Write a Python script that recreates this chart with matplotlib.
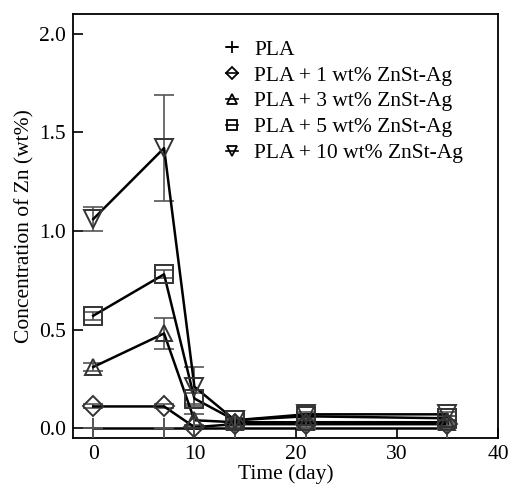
import matplotlib
matplotlib.use("Agg")
import matplotlib.pyplot as plt
import numpy as np

plt.rcParams['font.family'] = ['Liberation Serif', 'DejaVu Serif']

days = [0, 7, 10, 14, 21, 35]
labels = ["PLA", "PLA + 1 wt% ZnSt-Ag", "PLA + 3 wt% ZnSt-Ag",
          "PLA + 5 wt% ZnSt-Ag", "PLA + 10 wt% ZnSt-Ag"]
pla = [0.0, 0.0, 0.0, 0.0, 0.0, 0.0]
pla_err = [0.0, 0.0, 0.0, 0.0, 0.0, 0.0]
zn1 = [0.11, 0.11, 0.005, 0.02, 0.02, 0.02]
zn1_err = [0.01, 0.01, 0.01, 0.01, 0.01, 0.01]
zn3 = [0.31, 0.48, 0.04, 0.03, 0.03, 0.03]
zn3_err = [0.02, 0.08, 0.03, 0.01, 0.01, 0.01]
zn5 = [0.57, 0.78, 0.15, 0.04, 0.06, 0.05]
zn5_err = [0.02, 0.02, 0.03, 0.01, 0.01, 0.01]
zn10 = [1.06, 1.42, 0.21, 0.04, 0.07, 0.07]
zn10_err = [0.06, 0.27, 0.10, 0.01, 0.01, 0.01]

series = [pla, zn1, zn3, zn5, zn10]
errs = [pla_err, zn1_err, zn3_err, zn5_err, zn10_err]
markers = ['+', 'D', '^', 's', 'v']
msizes = [14, 10.5, 12, 13, 12.5]
lsizes = [8, 6, 7, 7.5, 7]

fig = plt.figure(figsize=(5.09, 4.88), dpi=100)
ax = fig.add_axes([73/509, 1-438/488, (498-73)/509, (438-14)/488])

handles = []
for y, e, m, ms, ls, lab in zip(series, errs, markers, msizes, lsizes, labels):
    ax.errorbar(days, y, yerr=e, color='#555555', ecolor='#555555', elinewidth=1.2,
                capsize=7, capthick=1.2, fmt='none', zorder=2)
    ax.plot(days, y, color='black', lw=1.8, zorder=3)
    ax.plot(days, y, linestyle='none', marker=m, ms=ms, mfc='none',
            mec='#333333' if m != '+' else '#555555', mew=1.4, zorder=4)
    h, = ax.plot([], [], color='black', lw=1.2, marker=m, ms=ls, mfc='none',
                 mec='black', mew=1.3, label=lab)
    handles.append(h)

ax.set_xlim(-2, 40)
ax.set_ylim(-0.05, 2.1)
ax.set_xticks([0, 10, 20, 30, 40])
ax.set_yticks([0.0, 0.5, 1.0, 1.5, 2.0])
ax.set_yticklabels(['0.0', '0.5', '1.0', '1.5', '2.0'])
ax.tick_params(direction='in', length=7, width=1.2, labelsize=15.5, pad=5)
for s in ax.spines.values():
    s.set_linewidth(1.3)
ax.set_xlabel('Time (day)', fontsize=15.5, labelpad=0)
ax.set_ylabel('Concentration of Zn (wt%)', fontsize=15.5, labelpad=3)

ax.legend(handles=handles, loc='upper left', bbox_to_anchor=(0.34, 0.96),
          frameon=False, fontsize=15.5, handlelength=0.55, handletextpad=0.75,
          labelspacing=0.27, borderaxespad=0)

fig.savefig('out.png', dpi=100)
